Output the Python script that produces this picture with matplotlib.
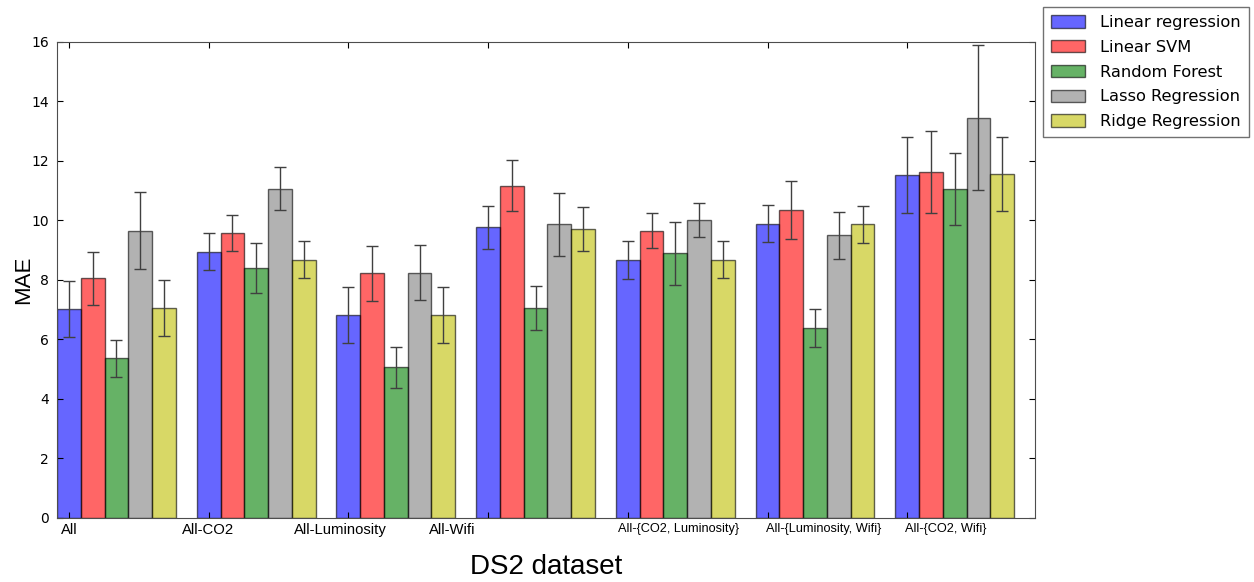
import numpy as np
import matplotlib
matplotlib.use('Agg')
import matplotlib.pyplot as plt
import matplotlib.transforms as mtransforms

groups = ['All', 'All-CO2', 'All-Luminosity', 'All-Wifi',
          'All-{CO2, Luminosity}', 'All-{Luminosity, Wifi}', 'All-{CO2, Wifi}']
models = ['Linear regression', 'Linear SVM', 'Random Forest',
          'Lasso Regression', 'Ridge Regression']

linreg_mae = [7.03, 8.95, 6.82, 9.77, 8.66, 9.89, 11.52]
linreg_err = [0.95, 0.62, 0.95, 0.72, 0.64, 0.62, 1.27]
svm_mae = [8.06, 9.57, 8.22, 11.17, 9.66, 10.35, 11.63]
svm_err = [0.89, 0.60, 0.92, 0.85, 0.58, 0.99, 1.39]
rf_mae = [5.37, 8.40, 5.06, 7.05, 8.89, 6.39, 11.06]
rf_err = [0.62, 0.85, 0.68, 0.73, 1.05, 0.63, 1.22]
lasso_mae = [9.66, 11.07, 8.25, 9.87, 10.02, 9.50, 13.45]
lasso_err = [1.28, 0.72, 0.94, 1.06, 0.57, 0.80, 2.43]
ridge_mae = [7.05, 8.68, 6.82, 9.71, 8.68, 9.87, 11.56]
ridge_err = [0.94, 0.62, 0.95, 0.74, 0.63, 0.63, 1.25]

series = [(linreg_mae, linreg_err, 'b'),
          (svm_mae, svm_err, 'r'),
          (rf_mae, rf_err, 'g'),
          (lasso_mae, lasso_err, 'gray'),
          (ridge_mae, ridge_err, 'y')]

# where each group label sits, relative to the group's first bar
label_shift = [0.09, 0.08, 0.03, -0.17, 0.45, 0.49, 0.36]

fig = plt.figure(figsize=(12.54, 5.82), dpi=100)
ax = fig.add_axes([0.0455, 0.110, 0.7799, 0.818])

ind = np.arange(len(groups))
width = 0.17

bars = []
for i, (vals, errs, col) in enumerate(series):
    b = ax.bar(ind + i * width, vals, width, yerr=errs, align='edge',
               color=col, alpha=0.6, edgecolor='k', linewidth=1,
               error_kw=dict(ecolor='0.25', elinewidth=1, capsize=4, capthick=1))
    bars.append(b)

ax.set_xlim(0, 7)
ax.set_ylim(0, 16)
ax.set_yticks(np.arange(0, 17, 2))
ax.set_xticks(ind + width / 2)
ax.set_xticklabels([])
ax.tick_params(direction='in', top=True, right=True, length=4,
               labelsize=10, pad=6)
for s in ax.spines.values():
    s.set_color('0.3')

trans = mtransforms.blended_transform_factory(ax.transData, ax.transAxes)
for k, name in enumerate(groups):
    fs = 9.2 if '{' in name else 10.7
    ax.text(ind[k] + label_shift[k], -0.010, name, transform=trans,
            ha='center', va='top', fontsize=fs, family='Liberation Sans')

fig.text(24 / 1254, 1 - 280 / 582, 'MAE', rotation=90, ha='center',
         va='center', fontsize=16, family='Liberation Sans')
fig.text(546 / 1254, 1 - 567 / 582, 'DS2 dataset', ha='center',
         va='center', fontsize=20, family='Liberation Sans')

fig.legend(bars, models, loc='upper left',
           bbox_to_anchor=(1043 / 1254, 1 - 7 / 582), fontsize=11.7,
           fancybox=False, edgecolor='0.3', borderpad=0.5, borderaxespad=0,
           handlelength=2.1, handleheight=0.8, handletextpad=0.9,
           labelspacing=0.6)

fig.savefig('out.png', dpi=100, facecolor='white')
